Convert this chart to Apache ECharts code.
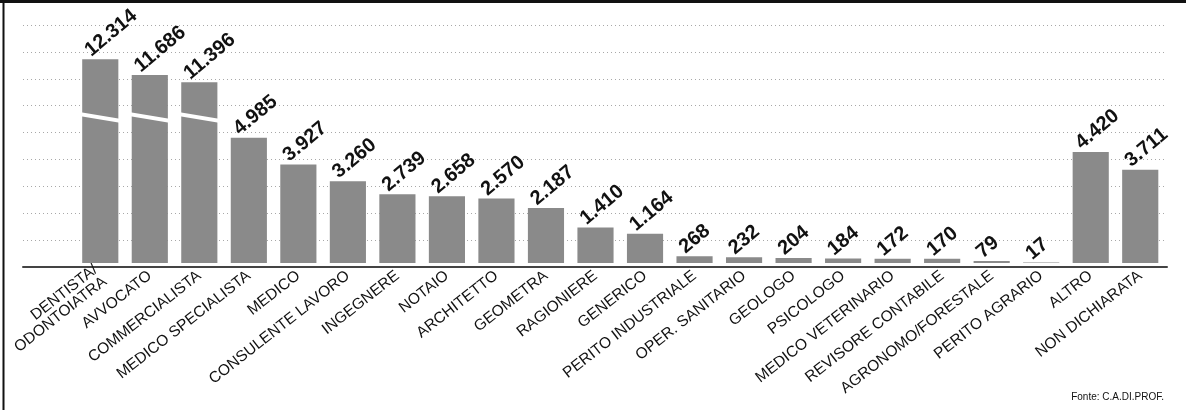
<!DOCTYPE html>
<html>
<head>
<meta charset="utf-8">
<script src="https://cdn.jsdelivr.net/npm/echarts@6/dist/echarts.min.js"></script>
<style>
    html, body { margin: 0; padding: 0; background: #fff; }
    #chart { width: 1186px; height: 410px; }
</style>
</head>
<body>
<div id="chart"></div>
<script>
const categories = [
    'DENTISTA/\nODONTOIATRA', 'AVVOCATO', 'COMMERCIALISTA', 'MEDICO SPECIALISTA', 'MEDICO',
    'CONSULENTE LAVORO', 'INGEGNERE', 'NOTAIO', 'ARCHITETTO', 'GEOMETRA', 'RAGIONIERE',
    'GENERICO', 'PERITO INDUSTRIALE', 'OPER. SANITARIO', 'GEOLOGO', 'PSICOLOGO',
    'MEDICO VETERINARIO', 'REVISORE CONTABILE', 'AGRONOMO/FORESTALE', 'PERITO AGRARIO',
    'ALTRO', 'NON DICHIARATA'
];
const values = [
    12314, 11686, 11396, 4985, 3927, 3260, 2739, 2658, 2570, 2187, 1410,
    1164, 268, 232, 204, 184, 172, 170, 79, 17, 4420, 3711
];
// the three tallest bars are drawn with a broken scale
const breakStart = 5800;
const breakEnd = 10000;
const gridMax = 9000;
const gridStep = 1000;

const FONT = "'Liberation Sans', Arial, sans-serif";

const fmt = (v) => String(v).replace(/\B(?=(\d{3})+(?!\d))/g, '.');

const chart = echarts.init(document.getElementById('chart'), null, { renderer: 'canvas' });

const cutData = values
    .map((v, i) => (v > breakStart ? [i, breakStart] : null))
    .filter(Boolean);

chart.setOption({
    animation: false,
    backgroundColor: '#fff',
    title: {
        text: 'Fonte: C.A.DI.PROF.',
        right: 17,
        bottom: 3,
        textStyle: { fontFamily: FONT, fontSize: 10, fontWeight: 'normal', color: '#111' }
    },
    graphic: [
        { type: 'line', shape: { x1: 3.5, y1: 0, x2: 3.5, y2: 410 }, style: { stroke: '#111', lineWidth: 2 } },
        { type: 'line', shape: { x1: 0, y1: 1.5, x2: 1186, y2: 1.5 }, style: { stroke: '#111', lineWidth: 3 } }
    ],
    grid: [
        { left: 72, right: 21, top: 25, bottom: 147 },
        { left: 23, right: 19, top: 25, bottom: 143 }
    ],
    xAxis: [
        {
            type: 'category',
            gridIndex: 0,
            data: categories,
            axisLine: { show: false },
            axisTick: { show: false },
            axisLabel: {
                interval: 0,
                rotate: 38,
                margin: 11,
                fontFamily: FONT,
                fontSize: 15.5,
                lineHeight: 15,
                color: '#111'
            }
        },
        {
            type: 'value',
            gridIndex: 1,
            min: 0,
            max: 1,
            axisLine: { show: true, lineStyle: { color: '#444', width: 2 } },
            axisTick: { show: false },
            axisLabel: { show: false },
            splitLine: { show: false }
        }
    ],
    yAxis: [
        {
            type: 'value',
            gridIndex: 0,
            min: 0,
            max: 13680,
            breaks: [{ start: breakStart, end: breakEnd, gap: 0 }],
            breakArea: { show: false },
            axisLine: { show: false },
            axisTick: { show: false },
            axisLabel: { show: false },
            splitLine: { show: false }
        },
        {
            type: 'value',
            gridIndex: 1,
            min: 0,
            max: gridMax,
            interval: gridStep,
            axisLine: { show: false },
            axisTick: { show: false },
            axisLabel: { show: false },
            splitLine: { lineStyle: { color: '#a8a8a8', width: 1, type: [1, 3] } }
        }
    ],
    series: [
        {
            type: 'bar',
            xAxisIndex: 0,
            yAxisIndex: 0,
            data: values,
            barCategoryGap: '27%',
            itemStyle: { color: '#8a8a8a' },
            label: {
                show: true,
                position: 'top',
                distance: 4,
                rotate: 40,
                align: 'left',
                verticalAlign: 'bottom',
                offset: [-8, 0],
                fontFamily: FONT,
                fontWeight: 'bold',
                fontSize: 20,
                color: '#111',
                formatter: (p) => fmt(p.value)
            }
        },
        {
            type: 'custom',
            xAxisIndex: 0,
            yAxisIndex: 0,
            z: 5,
            silent: true,
            data: cutData,
            renderItem: (params, api) => {
                const c = api.coord([api.value(0), api.value(1)]);
                const w = api.size([1, 0])[0] * 0.85;
                const drop = w * 6 / 36;
                const x0 = c[0] - w / 2;
                const x1 = c[0] + w / 2;
                return {
                    type: 'polygon',
                    shape: {
                        points: [
                            [x0, c[1] - drop / 2 - 2],
                            [x1, c[1] + drop / 2 - 2],
                            [x1, c[1] + drop / 2 + 2],
                            [x0, c[1] - drop / 2 + 2]
                        ]
                    },
                    style: { fill: '#fff' }
                };
            }
        }
    ]
});
</script>
</body>
</html>
